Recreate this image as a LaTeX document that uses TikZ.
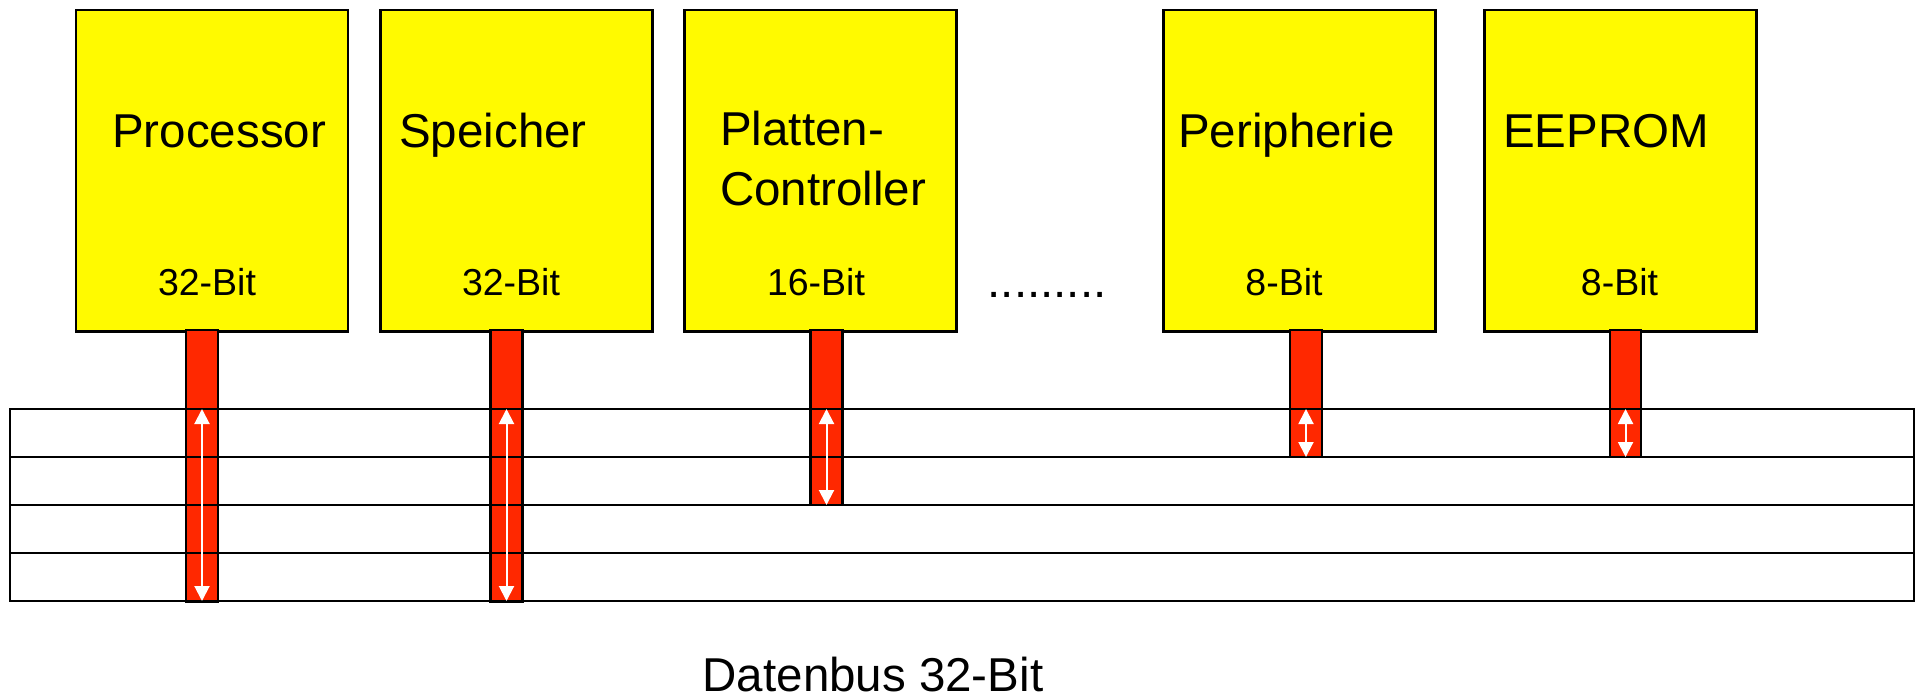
\documentclass[tikz,border=0pt]{standalone}
\usepackage{fontspec}
\setmainfont{Liberation Sans}
\usetikzlibrary{arrows.meta}
\definecolor{boxyellow}{RGB}{255,250,0}
\definecolor{stemred}{RGB}{255,40,0}
\begin{document}
\begin{tikzpicture}[x=1pt,y=-1pt,
  unitbox/.style={draw=black,line width=2.5pt,fill=boxyellow,rectangle,inner sep=0pt,anchor=north west},
  stembar/.style={draw=black,line width=2.5pt,fill=stemred},
  busline/.style={draw=black,line width=2.5pt},
  busarrow/.style={draw=white,line width=2pt,{Triangle[width=15pt,length=15pt]}-{Triangle[width=15pt,length=15pt]}},
  bigtxt/.style={inner sep=0pt,font=\fontsize{47.5}{59}\selectfont},
  smalltxt/.style={inner sep=0pt,anchor=base,font=\fontsize{37.5}{45}\selectfont}]
\useasboundingbox (0,0) rectangle (1918,698);
% boxes
\node[unitbox,minimum width=272pt,minimum height=321pt] (proc) at (74.5,9) {};
\node[unitbox,minimum width=272pt,minimum height=321pt] (mem) at (379,9) {};
\node[unitbox,minimum width=272pt,minimum height=321pt] (disk) at (683,9) {};
\node[unitbox,minimum width=272pt,minimum height=321pt] (peri) at (1162,9) {};
\node[unitbox,minimum width=272pt,minimum height=321pt] (eep) at (1483,9) {};
% stems
\filldraw[stembar] (186,330) rectangle (218,602);
\filldraw[stembar] (490.5,330) rectangle (522.5,602);
\filldraw[stembar] (810.5,330) rectangle (842.5,505);
\filldraw[stembar] (1290,330) rectangle (1322,457);
\filldraw[stembar] (1610,330) rectangle (1641,457);
% bus
\draw[busline] (10,409) rectangle (1914,601);
\foreach \yy in {457,505,553} \draw[busline] (10,\yy) -- (1914,\yy);
% arrows
\coordinate (pa) at (202,409); \coordinate (pb) at (202,601);
\coordinate (ma) at (506.5,409); \coordinate (mb) at (506.5,601);
\coordinate (da) at (826.5,409); \coordinate (db) at (826.5,505);
\coordinate (ra) at (1306,409); \coordinate (rb) at (1306,457);
\coordinate (ea) at (1625.5,409); \coordinate (eb) at (1625.5,457);
\draw[busarrow] (pa) -- (pb);
\draw[busarrow] (ma) -- (mb);
\draw[busarrow] (da) -- (db);
\draw[busarrow] (ra) -- (rb);
\draw[busarrow] (ea) -- (eb);
% texts
\node[bigtxt,anchor=base west] (tproc) at (112,147) {Processor};
\node[bigtxt,anchor=base west] (tmem) at (399,147) {Speicher};
\node[bigtxt,anchor=base west] (tdisk1) at (720,146) {Platten-};
\node[bigtxt,anchor=base west] (tdisk2) at (720,205) {Controller};
\node[bigtxt,anchor=base west] (tperi) at (1178,147) {Peripherie};
\node[bigtxt,anchor=base west] (teep) at (1503,147) {EEPROM};
\node[smalltxt] (bproc) at (207,295) {32-Bit};
\node[smalltxt] (bmem) at (511,295) {32-Bit};
\node[smalltxt] (bdisk) at (816,295) {16-Bit};
\node[smalltxt] (bperi) at (1284,295) {8-Bit};
\node[smalltxt] (beep) at (1619.5,295) {8-Bit};
\node[bigtxt,anchor=base] (dots) at (1047,297) {.........};
\node[bigtxt,anchor=base] (bus) at (873,691) {Datenbus 32-Bit};
\end{tikzpicture}
\end{document}
